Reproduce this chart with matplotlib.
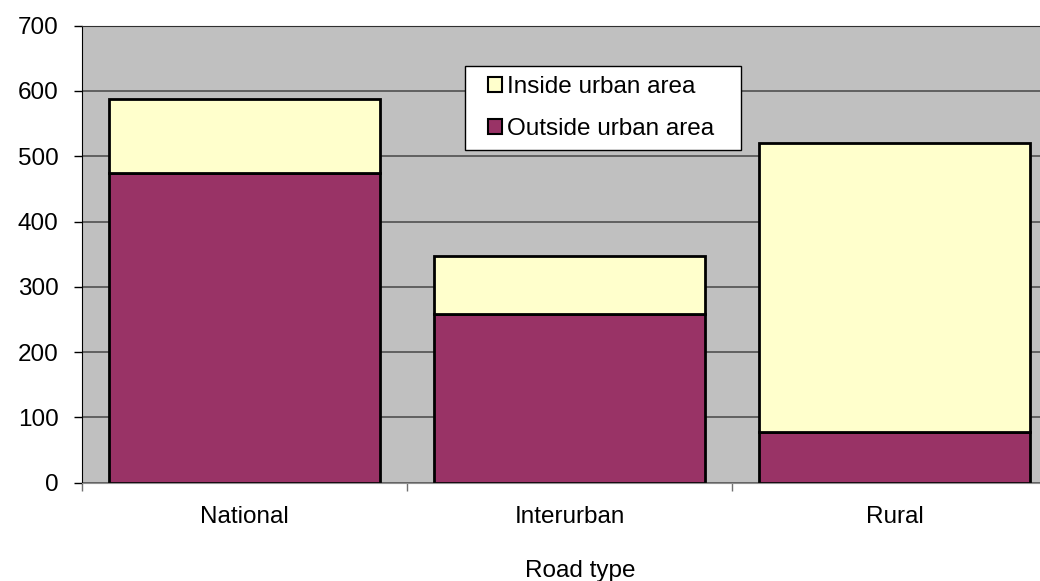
import matplotlib.pyplot as plt
from matplotlib.patches import Patch, Rectangle

plt.rcParams['font.family'] = ['Liberation Sans', 'DejaVu Sans']

# data
road_types = ['National', 'Interurban', 'Rural']
outside_urban = [475, 258, 77]
inside_urban = [113, 89, 443]
y_ticks = [0, 100, 200, 300, 400, 500, 600, 700]

purple = '#993366'
yellow = '#FFFFCC'
plot_bg = '#C0C0C0'
fs = 17.5

fig = plt.figure(figsize=(10.4, 5.81), dpi=100)
# plot area runs off the right edge of the picture, like the original
ax = fig.add_axes([82 / 1040, 98.3 / 581, 975 / 1040, 457 / 581])
ax.set_facecolor(plot_bg)

x = [i + 0.5 for i in range(len(road_types))]
ax.bar(x, outside_urban, width=0.835, color=purple, edgecolor='black', linewidth=2)
ax.bar(x, inside_urban, width=0.835, bottom=outside_urban, color=yellow,
       edgecolor='black', linewidth=2)

ax.set_xlim(0, 3)
ax.set_ylim(0, 700)
ax.set_yticks(y_ticks)
ax.yaxis.grid(True, color='#505050', linewidth=1.2)
ax.set_axisbelow(True)

ax.set_xticks(x)
ax.set_xticklabels(road_types, fontsize=fs)
ax.set_xticks([0, 1, 2, 3], minor=True)
ax.tick_params(axis='x', which='major', length=0, pad=17)
ax.tick_params(axis='x', which='minor', length=6, color='#707070', width=1)
ax.tick_params(axis='y', length=6, width=1, pad=11, labelsize=fs)

ax.spines['left'].set_color('black')
ax.spines['top'].set_color('#303030')
ax.spines['bottom'].set_color('#909090')
ax.spines['right'].set_visible(False)

fig.text(580 / 1040, 1 - 577 / 581, 'Road type', ha='center', va='baseline', fontsize=fs)

# legend box (wider on the right, as in the original)
box = Rectangle((465 / 1040, 1 - 150 / 581), 276 / 1040, 84 / 581,
                transform=fig.transFigure, facecolor='white', edgecolor='black',
                linewidth=1, zorder=4)
fig.patches.append(box)

handles = [Patch(facecolor=yellow, edgecolor='black', linewidth=1.5),
           Patch(facecolor=purple, edgecolor='black', linewidth=1.5)]
leg = fig.legend(handles, ['Inside urban area', 'Outside urban area'],
                 loc='center left', bbox_to_anchor=(488 / 1040, 1 - 108 / 581),
                 fontsize=fs, frameon=False, handlelength=0.58, handleheight=0.58,
                 handletextpad=0.2, borderpad=0, labelspacing=0.85,
                 borderaxespad=0)
leg.set_zorder(5)

fig.savefig('out.png', dpi=100)
